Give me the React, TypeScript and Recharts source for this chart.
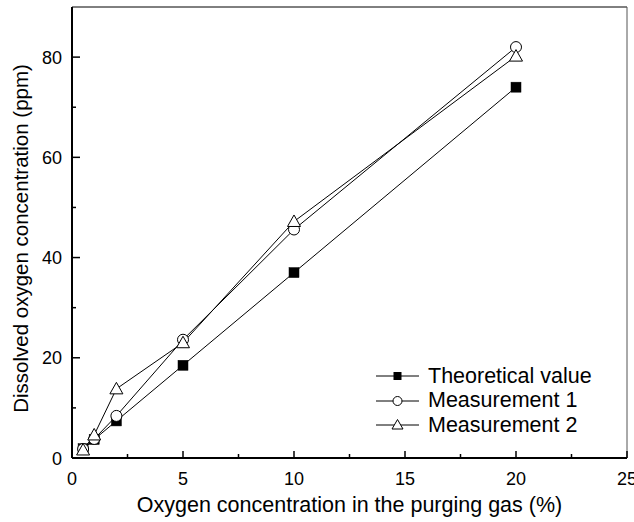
import React from 'react';
import { LineChart, Line, XAxis, YAxis, ReferenceLine, Legend, Label } from 'recharts';

const FONT = '"Liberation Sans", Arial, Helvetica, sans-serif';

// Data
const oxygenInGas = [0.5, 1, 2, 5, 10, 20];
const theoretical = [1.85, 3.7, 7.4, 18.5, 37, 74];
const measurement1 = [1.8, 3.8, 8.4, 23.6, 45.6, 82];
const measurement2 = [1.6, 4.6, 13.8, 23.0, 47.2, 80.2];

const xTicks = [0, 2.5, 5, 7.5, 10, 12.5, 15, 17.5, 20, 22.5, 25];
const xMajor = [0, 5, 10, 15, 20, 25];
const yTicks = [0, 10, 20, 30, 40, 50, 60, 70, 80];
const yMajor = [0, 20, 40, 60, 80];

const seriesNames = ['Theoretical value', 'Measurement 1', 'Measurement 2'];
const xTitle = 'Oxygen concentration in the purging gas (%)';
const yTitle = 'Dissolved oxygen concentration (ppm)';

const table = oxygenInGas.map((x, i) => ({
  x,
  theo: theoretical[i],
  m1: measurement1[i],
  m2: measurement2[i],
}));

const SquareDot = (p: any) => {
  const { cx, cy } = p;
  if (cx == null || cy == null) return null;
  const s = 10;
  return <rect x={cx - s / 2} y={cy - s / 2} width={s} height={s} fill="#000" stroke="#000" strokeWidth={0.5} />;
};
const CircleDot = (p: any) => {
  const { cx, cy } = p;
  if (cx == null || cy == null) return null;
  return <circle cx={cx} cy={cy} r={5.5} fill="#fff" stroke="#000" strokeWidth={1} />;
};
const TriangleDot = (p: any) => {
  const { cx, cy } = p;
  if (cx == null || cy == null) return null;
  return (
    <polygon
      points={`${cx},${cy - 6.5} ${cx - 6.5},${cy + 5} ${cx + 6.5},${cy + 5}`}
      fill="#fff"
      stroke="#000"
      strokeWidth={1}
    />
  );
};

const XTick = (props: any) => {
  const { x, y, payload } = props;
  const v = payload.value;
  const major = xMajor.includes(v);
  return (
    <g>
      <line x1={x} x2={x} y1={y} y2={y - (major ? 7 : 4)} stroke="#000" strokeWidth={1.5} />
      {major && (
        <text x={x} y={y + 27} textAnchor="middle" fontSize={18} fontFamily={FONT} fill="#000">
          {v}
        </text>
      )}
    </g>
  );
};

const YTick = (props: any) => {
  const { x, y, payload } = props;
  const v = payload.value;
  const major = yMajor.includes(v);
  return (
    <g>
      <line x1={x} x2={x + (major ? 8 : 4)} y1={y} y2={y} stroke="#000" strokeWidth={1.5} />
      {major && (
        <text x={x - 10} y={y + 6.5} textAnchor="end" fontSize={18} fontFamily={FONT} fill="#000">
          {v}
        </text>
      )}
    </g>
  );
};

const LegendIcon = ({ kind }: { kind: number }) => (
  <svg width={43} height={14} style={{ display: 'block' }}>
    <line x1={0} x2={43} y1={7} y2={7} stroke="#000" strokeWidth={1} />
    {kind === 0 && <rect x={17.5} y={3} width={8} height={8} fill="#000" />}
    {kind === 1 && <circle cx={21.5} cy={7} r={4.5} fill="#fff" stroke="#000" strokeWidth={1} />}
    {kind === 2 && <polygon points="21.5,1.5 16,11 27,11" fill="#fff" stroke="#000" strokeWidth={1} />}
  </svg>
);

const LegendContent = () => (
  <div style={{ fontFamily: FONT, fontSize: 21.5, color: '#000' }}>
    {seriesNames.map((n, i) => (
      <div key={n} style={{ display: 'flex', alignItems: 'center', height: 24.5, whiteSpace: 'nowrap' }}>
        <LegendIcon kind={i} />
        <span style={{ marginLeft: 9 }}>{n}</span>
      </div>
    ))}
  </div>
);

export default function App() {
  return (
    <div style={{ position: 'absolute', left: 0, top: 0, background: '#fff' }}>
      <LineChart width={634} height={522} data={table} margin={{ top: 7, right: 7, left: 0, bottom: 0 }}>
        <XAxis
          dataKey="x"
          type="number"
          domain={[0, 25]}
          ticks={xTicks}
          interval={0}
          height={64}
          tickSize={0}
          tickMargin={0}
          tickLine={false}
          axisLine={{ stroke: '#000', strokeWidth: 2 }}
          tick={<XTick />}
        >
          <Label
            content={(p: any) => {
              const vb = p.viewBox || {};
              const cx = vb.x + vb.width / 2;
              return (
                <text x={cx} y={512} textAnchor="middle" fontSize={21.5} fontFamily={FONT} fill="#000">
                  {xTitle}
                </text>
              );
            }}
          />
        </XAxis>
        <YAxis
          type="number"
          domain={[0, 90]}
          ticks={yTicks}
          interval={0}
          width={72}
          tickSize={0}
          tickMargin={0}
          tickLine={false}
          axisLine={{ stroke: '#000', strokeWidth: 2 }}
          tick={<YTick />}
        >
          <Label
            content={(p: any) => {
              const vb = p.viewBox || {};
              const cx = 28;
              const cy = vb.y + vb.height / 2 + 6;
              return (
                <text
                  x={cx}
                  y={cy}
                  transform={`rotate(-90, ${cx}, ${cy})`}
                  textAnchor="middle"
                  fontSize={20.5}
                  fontFamily={FONT}
                  fill="#000"
                >
                  {yTitle}
                </text>
              );
            }}
          />
        </YAxis>
        <ReferenceLine y={90} stroke="#000" strokeWidth={1} />
        <ReferenceLine x={25} stroke="#555" strokeWidth={1} />
        <Line dataKey="theo" name={seriesNames[0]} stroke="#000" strokeWidth={1} dot={<SquareDot />} isAnimationActive={false} />
        <Line dataKey="m1" name={seriesNames[1]} stroke="#000" strokeWidth={1} dot={<CircleDot />} isAnimationActive={false} />
        <Line dataKey="m2" name={seriesNames[2]} stroke="#000" strokeWidth={1} dot={<TriangleDot />} isAnimationActive={false} />
        <Legend
          layout="horizontal"
          verticalAlign="middle"
          align="center"
          content={<LegendContent />}
          wrapperStyle={{ left: 376, top: 364, width: 'auto', height: 'auto' }}
        />
      </LineChart>
    </div>
  );
}
